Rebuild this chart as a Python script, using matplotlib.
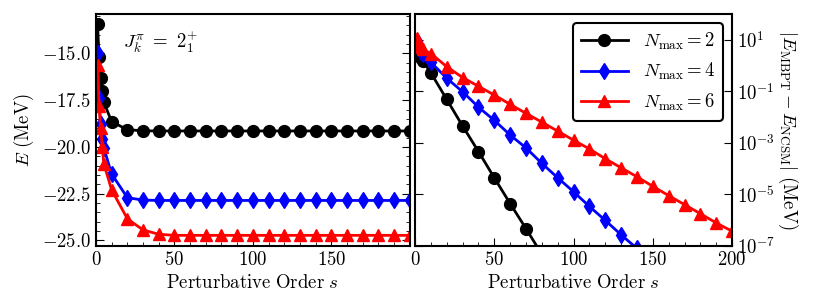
import numpy as np
import matplotlib
matplotlib.use('Agg')
from matplotlib import pyplot as plt
from matplotlib.ticker import FuncFormatter, MultipleLocator, NullLocator

plt.rcParams['mathtext.fontset'] = 'cm'
plt.rcParams['font.family'] = 'serif'

# perturbative orders
s_early = [1, 2, 3, 4, 5]
s_late = [10, 20, 30, 40, 50, 60, 70, 80, 90, 100, 110, 120, 130, 140, 150,
          160, 170, 180, 190, 200]
s_vals = s_early + s_late

# left panel: E (MeV)
e_nmax2 = [-13.44, -15.2, -16.3, -17.0, -17.6,
           -18.65, -19.08, -19.14, -19.15, -19.15, -19.15, -19.15, -19.15, -19.15,
           -19.15, -19.15, -19.15, -19.15, -19.15, -19.15, -19.15, -19.15, -19.15, -19.15, -19.15]
e_nmax4 = [-15.0, -17.4, -18.8, -19.6, -20.05,
           -21.45, -22.72, -22.85, -22.87, -22.87, -22.87, -22.87, -22.87, -22.87,
           -22.87, -22.87, -22.87, -22.87, -22.87, -22.87, -22.87, -22.87, -22.87, -22.87, -22.87]
e_nmax6 = [-15.6, -17.8, -19.0, -20.0, -20.9,
           -22.3, -23.85, -24.45, -24.68, -24.74, -24.74, -24.74, -24.74, -24.74,
           -24.74, -24.74, -24.74, -24.74, -24.74, -24.74, -24.74, -24.74, -24.74, -24.74, -24.74]

# right panel: log10 |E_MBPT - E_NCSM|
s_err2 = [1, 2, 3, 4, 5, 10, 20, 30, 40, 50, 60, 70, 80]
logerr2 = [0.76, 0.60, 0.45, 0.30, 0.17, -0.29, -1.32, -2.35, -3.34, -4.36, -5.36, -6.33, -7.33]
s_err4 = [1, 2, 3, 4, 5, 10, 20, 30, 40, 50, 60, 70, 80, 90, 100, 110, 120, 130, 140, 150]
logerr4 = [0.95, 0.76, 0.62, 0.52, 0.45, 0.12, -0.5, -1.02, -1.62, -2.13, -2.7, -3.2,
           -3.8, -4.36, -4.9, -5.47, -6.01, -6.57, -7.1, -7.65]
s_err6 = s_vals
logerr6 = [1.05, 0.9, 0.8, 0.7, 0.62, 0.46, -0.05, -0.47, -0.81, -1.15, -1.51, -1.86,
           -2.2, -2.55, -2.9, -3.24, -3.62, -3.97, -4.32, -4.69, -5.05, -5.4, -5.75,
           -6.11, -6.43]

labels = [r'$N_{\rm max} = 2$', r'$N_{\rm max} = 4$', r'$N_{\rm max} = 6$']
colors = ['black', 'blue', 'red']
markers = ['o', 'd', '^']

fig = plt.figure(figsize=(8.13, 3.07), dpi=100)
axL = fig.add_axes([0.118, 0.199, 0.386, 0.756])
axR = fig.add_axes([0.5105, 0.199, 0.390, 0.756])

for e, c, m in zip([e_nmax2, e_nmax4, e_nmax6], colors, markers):
    axL.plot(s_vals, e, color=c, marker=m, lw=2, ms=8.5)

for s, le, c, m, lab in zip([s_err2, s_err4, s_err6], [logerr2, logerr4, logerr6],
                            colors, markers, labels):
    axR.plot(s, 10.0 ** np.array(le), color=c, marker=m, lw=2, ms=8.5, label=lab)

fs = 13.5
axL.set_xlim(0, 200)
axL.set_xticks([0, 50, 100, 150])
axL.xaxis.set_minor_locator(MultipleLocator(10))
axL.yaxis.set_major_locator(MultipleLocator(2.5))
axL.yaxis.set_minor_locator(MultipleLocator(0.5))
axL.xaxis.set_major_formatter(FuncFormatter(lambda v, p: r'$%d$' % v))
axL.yaxis.set_major_formatter(FuncFormatter(lambda v, p: r'$%.1f$' % v))
axL.tick_params(which='both', direction='in', left=True, right=True, top=False,
                labelsize=fs)
axL.tick_params(which='major', length=6)
axL.tick_params(which='minor', length=3)
axL.set_xlabel(r'$\mathrm{Perturbative\ Order}\ s$', fontsize=fs)
axL.set_ylabel(r'$E\ \mathrm{(MeV)}$', fontsize=fs)
axL.text(0.205, 0.88, r'$J^{\pi}_{k}\ =\ 2^{+}_{1}$', transform=axL.transAxes,
         ha='center', va='center', fontsize=fs)

axR.set_yscale('log')
axR.set_xlim(0, 200)
axR.set_ylim(1e-7, 1e2)
axR.set_xticks([0, 50, 100, 150, 200])
axR.xaxis.set_minor_locator(MultipleLocator(10))
axR.set_yticks([1e1, 1e-1, 1e-3, 1e-5, 1e-7])
axR.yaxis.set_minor_locator(NullLocator())
axR.xaxis.set_major_formatter(FuncFormatter(lambda v, p: r'$%d$' % v))
axR.yaxis.set_major_formatter(FuncFormatter(lambda v, p: r'$10^{%d}$' % round(np.log10(v))))
axR.yaxis.tick_right()
axR.yaxis.set_label_position('right')
axR.tick_params(which='both', direction='in', left=True, right=True, top=False,
                labelleft=False, labelright=True, labelsize=fs)
axR.tick_params(which='major', length=6)
axR.tick_params(which='minor', length=3)
axR.set_xlabel(r'$\mathrm{Perturbative\ Order}\ s$', fontsize=fs)
axR.set_ylabel(r'$|E_{\rm MBPT} - E_{\rm NCSM}|\ \mathrm{(MeV)}$', fontsize=fs,
               rotation=270, labelpad=18)
leg = axR.legend(loc='upper right', fontsize=fs, handlelength=2.5, framealpha=1)
leg.get_frame().set_edgecolor('black')
leg.get_frame().set_linewidth(1.5)

for ax in (axL, axR):
    for sp in ax.spines.values():
        sp.set_linewidth(1.5)

fig.savefig('out.png', dpi=100)
